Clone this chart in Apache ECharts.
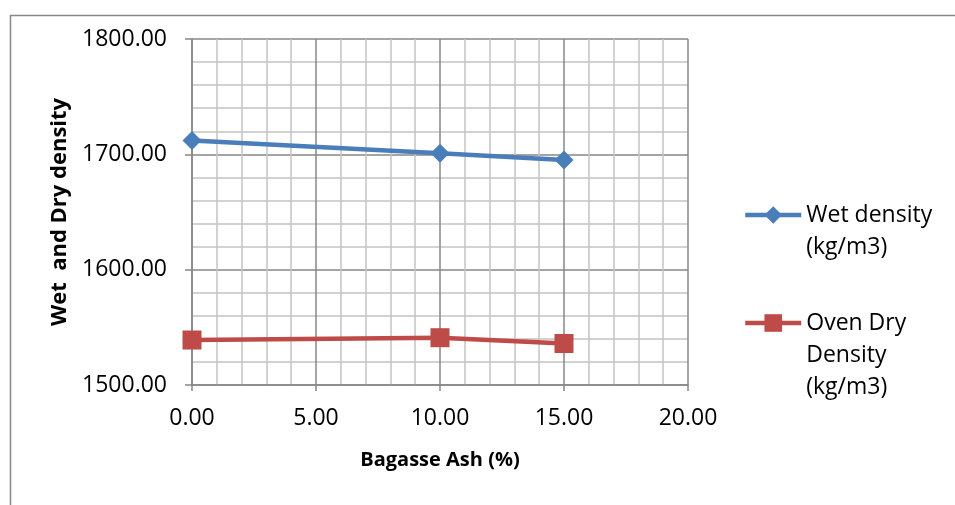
<!DOCTYPE html>
<html>
<head>
<meta charset="utf-8">
<script src="https://cdn.jsdelivr.net/npm/echarts@6/dist/echarts.min.js"></script>
<style>
  html, body { margin: 0; padding: 0; background: #fff; }
  #chart { width: 955px; height: 505px; }
</style>
</head>
<body>
<div id="chart"></div>
<script>
// Bagasse ash content (%) and measured densities (kg/m3)
const ashPercent = [0, 10, 15];
const wetDensity = [1712, 1701, 1695];
const ovenDryDensity = [1539, 1541, 1536];

const seriesNames = ['Wet density (kg/m3)', 'Oven Dry Density (kg/m3)'];
// Legend text broken over lines; leading blank lines keep the first line beside the icon
const legendText = {
  'Wet density (kg/m3)': '\u00a0\nWet density\n(kg/m3)',
  'Oven Dry Density (kg/m3)': '\u00a0\n\u00a0\nOven Dry\nDensity\n(kg/m3)'
};

const FONT = '"Open Sans", "Noto Sans", sans-serif';
const BLUE = '#4A7EBB';
const RED = '#BE4B48';
const MAJOR = '#878787';
const MINOR = '#C4C4C4';

const chart = echarts.init(document.getElementById('chart'), null, { renderer: 'canvas' });

const legendBase = {
  orient: 'vertical',
  left: 738,
  itemWidth: 56,
  itemHeight: 22,
  itemGap: 0,
  formatter: n => legendText[n],
  lineStyle: { width: 4.5 },
  textStyle: { fontFamily: FONT, fontSize: 23, color: '#000', lineHeight: 32 }
};

chart.setOption({
  animation: false,
  backgroundColor: '#fff',
  graphic: [{
    type: 'rect',
    left: 8, top: 13,
    shape: { width: 1000, height: 600 },
    style: { fill: 'none', stroke: '#888', lineWidth: 1.5 },
    silent: true
  }],
  grid: { left: 192, right: 267, top: 39, bottom: 120, containLabel: false },
  legend: [
    Object.assign({}, legendBase, { top: 162, data: [seriesNames[0]] }),
    Object.assign({}, legendBase, { top: 238, data: [seriesNames[1]] })
  ],
  xAxis: {
    type: 'value',
    min: 0, max: 20, interval: 5,
    name: 'Bagasse Ash (%)',
    nameLocation: 'middle',
    nameGap: 65,
    nameTextStyle: { fontFamily: FONT, fontSize: 20, fontWeight: 'bold', color: '#000' },
    axisLine: { show: true, lineStyle: { color: MAJOR, width: 1.5 } },
    axisTick: { show: true, length: 6, lineStyle: { color: MAJOR, width: 1.5 } },
    axisLabel: { margin: 22, fontFamily: FONT, fontSize: 23, color: '#000', formatter: v => v.toFixed(2) },
    splitLine: { show: true, lineStyle: { color: MAJOR, width: 1.5 } },
    minorTick: { show: false, splitNumber: 5 },
    minorSplitLine: { show: true, lineStyle: { color: MINOR, width: 1.5 } }
  },
  yAxis: {
    type: 'value',
    min: 1500, max: 1800, interval: 100,
    name: 'Wet  and Dry density',
    nameLocation: 'middle',
    nameGap: 121,
    nameTextStyle: { fontFamily: FONT, fontSize: 22, fontWeight: 'bold', color: '#000' },
    axisLine: { show: true, lineStyle: { color: MAJOR, width: 1.5 } },
    axisTick: { show: true, length: 7, lineStyle: { color: MAJOR, width: 1.5 } },
    axisLabel: { margin: 25, fontFamily: FONT, fontSize: 23, color: '#000', formatter: v => v.toFixed(2) },
    splitLine: { show: true, lineStyle: { color: MAJOR, width: 1.5 } },
    minorTick: { show: false, splitNumber: 5 },
    minorSplitLine: { show: true, lineStyle: { color: MINOR, width: 1.5 } }
  },
  series: [
    {
      name: seriesNames[0],
      type: 'line',
      data: ashPercent.map((x, i) => [x, wetDensity[i]]),
      symbol: 'diamond',
      symbolSize: 19,
      lineStyle: { color: BLUE, width: 4.5 },
      itemStyle: { color: BLUE },
      z: 3
    },
    {
      name: seriesNames[1],
      type: 'line',
      data: ashPercent.map((x, i) => [x, ovenDryDensity[i]]),
      symbol: 'rect',
      symbolSize: 19,
      lineStyle: { color: RED, width: 4.5 },
      itemStyle: { color: RED },
      z: 3
    }
  ]
});
</script>
</body>
</html>
